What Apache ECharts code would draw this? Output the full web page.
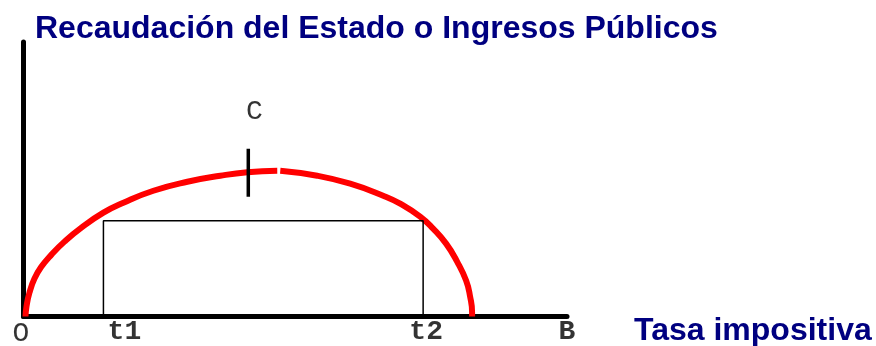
<!DOCTYPE html>
<html>
<head>
<meta charset="utf-8">
<script src="https://cdn.jsdelivr.net/npm/echarts@6/dist/echarts.min.js"></script>
<style>
  html, body { margin: 0; padding: 0; background: #fff; }
  #chart { width: 876px; height: 346px; }
</style>
</head>
<body>
<div id="chart"></div>
<script>
// curve (x, revenue), split where the drawing has a small gap
let curveLeft = [[2,0],[3,10],[6,24],[11,38],[18,50],[28,62],[41,75],[58,89],[80,104],[100,114],[130,126],[164,135],[197,141],[224,144.5],[254,146]];
let curveRight = [[257,146],[294,141],[327,133],[360,121],[377,113],[397,100],[410,88],[423,73],[434,55],[443,36],[447,20],[449,4],[449,0]];
// rectangle t1..t2
let rectX = [80, 80, 400, 400];
let rectY = [0, 96, 96, 0];
// mark at C
let cMark = [[225,168],[225,120]];
// text labels
let labelNames = ['O', 't1', 't2', 'B', 'C'];
let labelX = [-2.5, 101, 403, 544, 231];
let labelY = [-17, -15, -15, -15, 205];

let rectData = rectX.map(function (x, i) { return [x, rectY[i]]; });
let labelData = labelNames.map(function (n, i) { return { name: n, value: [labelX[i], labelY[i]] }; });

let option = {
    animation: false,
    title: [{
        text: 'Recaudación del Estado o Ingresos Públicos',
        left: 30,
        top: 8,
        textStyle: { fontFamily: 'Liberation Sans', fontWeight: 'bold', fontSize: 32, color: '#000080' }
    }, {
        text: 'Tasa impositiva',
        left: 629,
        top: 310,
        textStyle: { fontFamily: 'Liberation Sans', fontWeight: 'bold', fontSize: 32, color: '#000080' }
    }],
    grid: { left: 23.5, right: 309, top: 42, bottom: 29.5 },
    xAxis: {
        type: 'value', min: 0, max: 544,
        axisLine: { lineStyle: { color: '#000', width: 5 } },
        axisTick: { show: false }, axisLabel: { show: false }, splitLine: { show: false }
    },
    yAxis: {
        type: 'value', min: 0, max: 275,
        axisLine: { show: true, lineStyle: { color: '#000', width: 5 } },
        axisTick: { show: false }, axisLabel: { show: false }, splitLine: { show: false }
    },
    series: [{
        type: 'line', data: curveLeft, smooth: 0.5, showSymbol: false,
        lineStyle: { color: '#ff0000', width: 6 }, z: 3
    }, {
        type: 'line', data: curveRight, smooth: 0.5, showSymbol: false,
        lineStyle: { color: '#ff0000', width: 6 }, z: 3
    }, {
        type: 'line', data: rectData, showSymbol: false,
        lineStyle: { color: '#000', width: 1.5 }, z: 4
    }, {
        type: 'line', data: cMark, showSymbol: false,
        lineStyle: { color: '#000', width: 3.5, cap: 'butt' }, z: 5
    }, {
        type: 'scatter', data: labelData, symbolSize: 0, clip: false,
        label: {
            show: true, position: 'inside', formatter: '{b}',
            fontFamily: 'Liberation Mono', fontSize: 28, color: '#000',
            fontWeight: 'bold'
        }
    }]
};
// O and C are drawn in a light face
option.series[4].data[0].label = { fontWeight: 'normal' };
option.series[4].data[4].label = { fontWeight: 'normal' };

let myChart = echarts.init(document.getElementById('chart'));
myChart.setOption(option);
</script>
</body>
</html>
